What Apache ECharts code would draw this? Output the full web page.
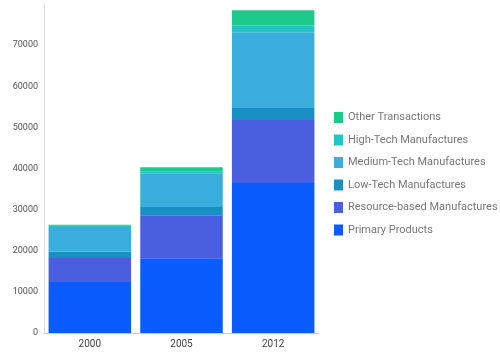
<!DOCTYPE html>
<html>
<head>
<meta charset="utf-8">
<script src="https://cdn.jsdelivr.net/npm/echarts@6/dist/echarts.min.js"></script>
<style>html,body{margin:0;padding:0;background:#fff;}#c{width:500px;height:355px;}</style>
</head>
<body>
<div id="c"></div>
<script>
var categories = ['2000', '2005', '2012'];
var primaryProducts = [12400, 18150, 36500];
var resourceBased = [5850, 10500, 15300];
var lowTech = [1550, 2000, 2900];
var mediumTech = [6000, 8200, 18450];
var highTech = [300, 350, 1700];
var otherTransactions = [250, 1100, 3650];
var seriesNames = ['Primary Products', 'Resource-based Manufactures', 'Low-Tech Manufactures', 'Medium-Tech Manufactures', 'High-Tech Manufactures', 'Other Transactions'];
var seriesValues = [primaryProducts, resourceBased, lowTech, mediumTech, highTech, otherTransactions];
var colors = ['#0a5cff', '#4a5fe0', '#1a8fc4', '#3aaddc', '#22c4c4', '#1ec98c'];

var chart = echarts.init(document.getElementById('c'), null, {renderer: 'canvas'});
chart.setOption({
  animation: false,
  color: colors,
  grid: {left: 44, right: 181, top: 4, bottom: 22},
  legend: {
    orient: 'vertical',
    left: 329,
    top: 107,
    itemWidth: 9,
    itemHeight: 11,
    itemGap: 11.5,
    icon: 'rect',
    data: seriesNames.slice().reverse(),
    textStyle: {fontSize: 11, color: '#777', fontFamily: 'Roboto'}
  },
  xAxis: {
    type: 'category',
    data: categories,
    axisTick: {show: false},
    axisLine: {lineStyle: {color: '#ccc'}},
    axisLabel: {fontSize: 10, color: '#444', margin: 6, fontFamily: 'Roboto'}
  },
  yAxis: {
    type: 'value',
    min: 0,
    max: 80000,
    interval: 10000,
    splitLine: {show: false},
    axisLine: {show: true, lineStyle: {color: '#ddd'}},
    axisTick: {show: false},
    axisLabel: {fontSize: 9, color: '#555', margin: 6, showMaxLabel: false, fontFamily: 'Roboto',
      formatter: function (v) { return String(v); }}
  },
  series: seriesNames.map(function (n, i) {
    return {
      name: n,
      type: 'bar',
      stack: 'total',
      barCategoryGap: '10%',
      data: seriesValues[i]
    };
  })
});
</script>
</body>
</html>
